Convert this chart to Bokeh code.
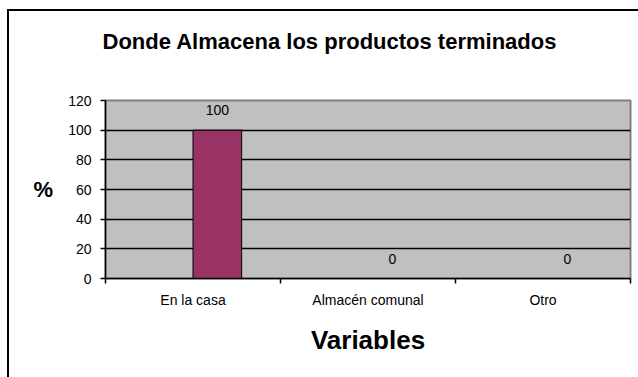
from bokeh.plotting import figure
from bokeh.models import FixedTicker, ColumnDataSource, LabelSet, Title
from bokeh.core.properties import value
from bokeh.embed import file_html
from bokeh.resources import INLINE

# Chart data
categories = ["En la casa", "Almacén comunal", "Otro"]
percent = [100, 0, 0]
y_ticks = [0, 20, 40, 60, 80, 100, 120]
title_text = "Donde Almacena los productos terminados"

FONT = "Liberation Sans"
BAR_SHIFT = 0.139   # bar sits right of the category centre
BAR_W = 0.278

centers = [i + 0.5 for i in range(len(categories))]
bounds = [float(i) for i in range(len(categories) + 1)]

src = ColumnDataSource(dict(
    x=[c + BAR_SHIFT for c in centers],
    top=percent,
    label=[str(v) for v in percent],
))

p = figure(width=638, height=377, x_range=(0, len(categories)), y_range=(0, 120),
           output_backend="svg", toolbar_location=None,
           min_border_left=105, min_border_right=8, min_border_top=100, min_border_bottom=99)

p.background_fill_color = "#C0C0C0"
p.border_fill_color = "white"
p.outline_line_color = "#808080"
p.outline_line_width = 2

# title sits on top of a small spacer panel
p.title = None
p.add_layout(Title(text=" ", text_font_size="1px", standoff=44), "above")
p.add_layout(Title(text=title_text, align="left", offset=-3, standoff=0,
                   text_font=FONT, text_font_size="22px", text_font_style="bold",
                   text_color="black"), "above")

# bars
p.vbar(x="x", top="top", bottom=0, width=BAR_W, source=src,
       fill_color="#993366", line_color="black", line_width=1)

# value labels
p.add_layout(LabelSet(x="x", y="top", text="label", source=src, y_offset=20,
                      text_align="center", text_baseline="middle",
                      text_font=value(FONT), text_font_size=value("14px"),
                      text_color="black"))

# grid
p.xgrid.visible = False
p.ygrid.ticker = FixedTicker(ticks=[t for t in y_ticks if 0 < t < 120])
p.ygrid.grid_line_color = "black"
p.ygrid.grid_line_width = 1.3

# y axis
ya = p.yaxis[0]
ya.ticker = FixedTicker(ticks=y_ticks)
ya.axis_line_color = "black"
ya.axis_line_width = 1.5
ya.major_tick_line_color = "black"
ya.major_tick_line_width = 1.5
ya.major_tick_out = 5
ya.major_tick_in = 0
ya.minor_tick_line_color = None
ya.major_label_standoff = 9
ya.major_label_text_font = FONT
ya.major_label_text_font_size = "14px"
ya.major_label_text_color = "black"
ya.axis_label = "%"
ya.axis_label_orientation = "horizontal"
ya.axis_label_text_font = FONT
ya.axis_label_text_font_size = "22px"
ya.axis_label_text_font_style = "bold"
ya.axis_label_text_color = "black"
ya.axis_label_standoff = 12

# x axis: ticks at category boundaries, labels at centres
xa = p.xaxis[0]
xa.ticker = FixedTicker(ticks=centers, minor_ticks=bounds)
xa.major_label_overrides = {c: name for c, name in zip(centers, categories)}
xa.axis_line_color = "black"
xa.axis_line_width = 1.5
xa.major_tick_line_color = None
xa.major_tick_out = 5
xa.major_tick_in = 0
xa.minor_tick_line_color = "black"
xa.minor_tick_line_width = 1.5
xa.minor_tick_out = 5
xa.minor_tick_in = 0
xa.major_label_standoff = 8
xa.major_label_text_font = FONT
xa.major_label_text_font_size = "14px"
xa.major_label_text_color = "black"
xa.axis_label = "Variables"
xa.axis_label_text_font = FONT
xa.axis_label_text_font_size = "26px"
xa.axis_label_text_font_style = "bold"
xa.axis_label_text_color = "black"
xa.axis_label_standoff = 14

html = file_html(p, INLINE)
# chart-area edge (left and top) laid over the canvas
edge = ('<div style="position:fixed;left:7px;top:9px;right:0;bottom:0;'
        'border-left:2px solid #000;border-top:2px solid #000;pointer-events:none"></div>')
html = html.replace("</body>", edge + "\n</body>", 1)

open("out.html", "w").write(html)
